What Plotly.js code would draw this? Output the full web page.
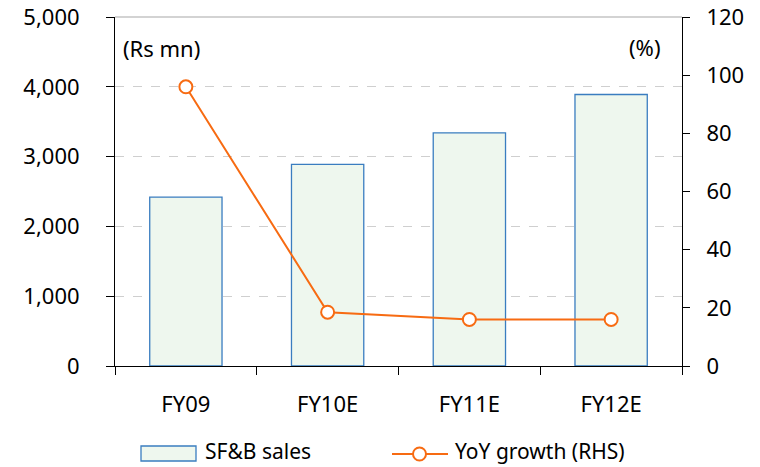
<!DOCTYPE html>
<html>
<head>
<meta charset="utf-8">
<script src="https://cdn.plot.ly/plotly-3.0.1.min.js"></script>
<style>html,body{margin:0;padding:0;background:#fff;}#chart{width:760px;height:467px;}</style>
</head>
<body>
<div id="chart"></div>
<script>
const categories = ['FY09', 'FY10E', 'FY11E', 'FY12E'];
const salesValues = [2420, 2890, 3340, 3890];
const growthValues = [96, 18.5, 16, 16];
const leftTickValues = [0, 1000, 2000, 3000, 4000, 5000];
const rightTickValues = [0, 20, 40, 60, 80, 100, 120];
const seriesNames = ['SF&B sales', 'YoY growth (RHS)'];

const W = 760, H = 467;
const L = 115, R = 682, T = 17, B = 366;
const px = x => (x - L) / (R - L);
const py = y => (B - y) / (B - T);

const orange = '#F76B12';
const font = 'Noto Sans, Open Sans, sans-serif';

const traces = [
  {
    type: 'bar', x: categories, y: salesValues, name: seriesNames[0],
    marker: {color: '#EEF7EE', line: {color: '#3A7DC0', width: 1.3}},
    showlegend: false, hoverinfo: 'skip'
  },
  {
    type: 'scatter', mode: 'lines+markers', x: categories, y: growthValues, yaxis: 'y2',
    name: seriesNames[1],
    line: {color: orange, width: 2},
    marker: {symbol: 'circle', size: 13, color: '#FFFFFF', line: {color: orange, width: 2}},
    cliponaxis: false, showlegend: false, hoverinfo: 'skip'
  }
];

const layout = {
  width: W, height: H,
  margin: {l: L, r: W - R, t: T, b: H - B, pad: 0},
  paper_bgcolor: '#fff', plot_bgcolor: '#fff',
  font: {family: font, size: 22, color: '#000'},
  bargap: 0.49,
  showlegend: false,
  xaxis: {
    type: 'category', tickson: 'boundaries', ticks: 'outside', ticklen: 8, tickcolor: '#000',
    showline: true, linecolor: '#000', linewidth: 1, showgrid: false, zeroline: false,
    tickfont: {family: font, size: 22, color: '#000'}, ticklabelstandoff: 19
  },
  yaxis: {
    range: [0, 5000], tickvals: leftTickValues, tickformat: ',d',
    ticks: 'outside', ticklen: 8, tickcolor: '#000',
    showline: true, linecolor: '#000', linewidth: 1,
    showgrid: true, gridcolor: '#CFCFCF', griddash: 'dash', gridwidth: 1.3, zeroline: false,
    tickfont: {family: font, size: 22, color: '#000'}, ticklabelstandoff: 22
  },
  yaxis2: {
    overlaying: 'y', side: 'right', range: [0, 120], tickvals: rightTickValues,
    ticks: 'outside', ticklen: 7, tickcolor: '#000',
    showline: true, linecolor: '#000', linewidth: 1, showgrid: false, zeroline: false,
    tickfont: {family: font, size: 22, color: '#000'}, ticklabelstandoff: 12
  },
  shapes: [
    {type: 'line', xref: 'paper', yref: 'paper', x0: 0, x1: 1, y0: 1, y1: 1,
     line: {color: '#C4C4C4', width: 1.5}},
    {type: 'rect', xref: 'paper', yref: 'paper', x0: px(141), x1: px(196), y0: py(446), y1: py(461),
     fillcolor: '#EEF7EE', line: {color: '#3A7DC0', width: 1.3}},
    {type: 'line', xref: 'paper', yref: 'paper', x0: px(392), x1: px(448), y0: py(454), y1: py(454),
     line: {color: orange, width: 2}},
    {type: 'circle', xref: 'paper', yref: 'paper', x0: px(413), x1: px(426), y0: py(447.5), y1: py(460.5),
     fillcolor: '#FFFFFF', line: {color: orange, width: 2}}
  ],
  annotations: [
    {xref: 'paper', yref: 'paper', x: px(121), y: py(48), xanchor: 'left', yanchor: 'middle',
     text: '(Rs mn)', showarrow: false, font: {family: font, size: 22, color: '#000'}},
    {xref: 'paper', yref: 'paper', x: px(662), y: py(47), xanchor: 'right', yanchor: 'middle',
     text: '(%)', showarrow: false, font: {family: font, size: 22, color: '#000'}},
    {xref: 'paper', yref: 'paper', x: px(204), y: py(466), xanchor: 'left', yanchor: 'bottom',
     borderpad: 0, text: seriesNames[0], showarrow: false, font: {family: font, size: 21, color: '#000'}},
    {xref: 'paper', yref: 'paper', x: px(454), y: py(466), xanchor: 'left', yanchor: 'bottom',
     borderpad: 0, text: seriesNames[1], showarrow: false, font: {family: font, size: 21, color: '#000'}}
  ]
};

Plotly.newPlot('chart', traces, layout, {displayModeBar: false, staticPlot: true});
</script>
</body>
</html>
